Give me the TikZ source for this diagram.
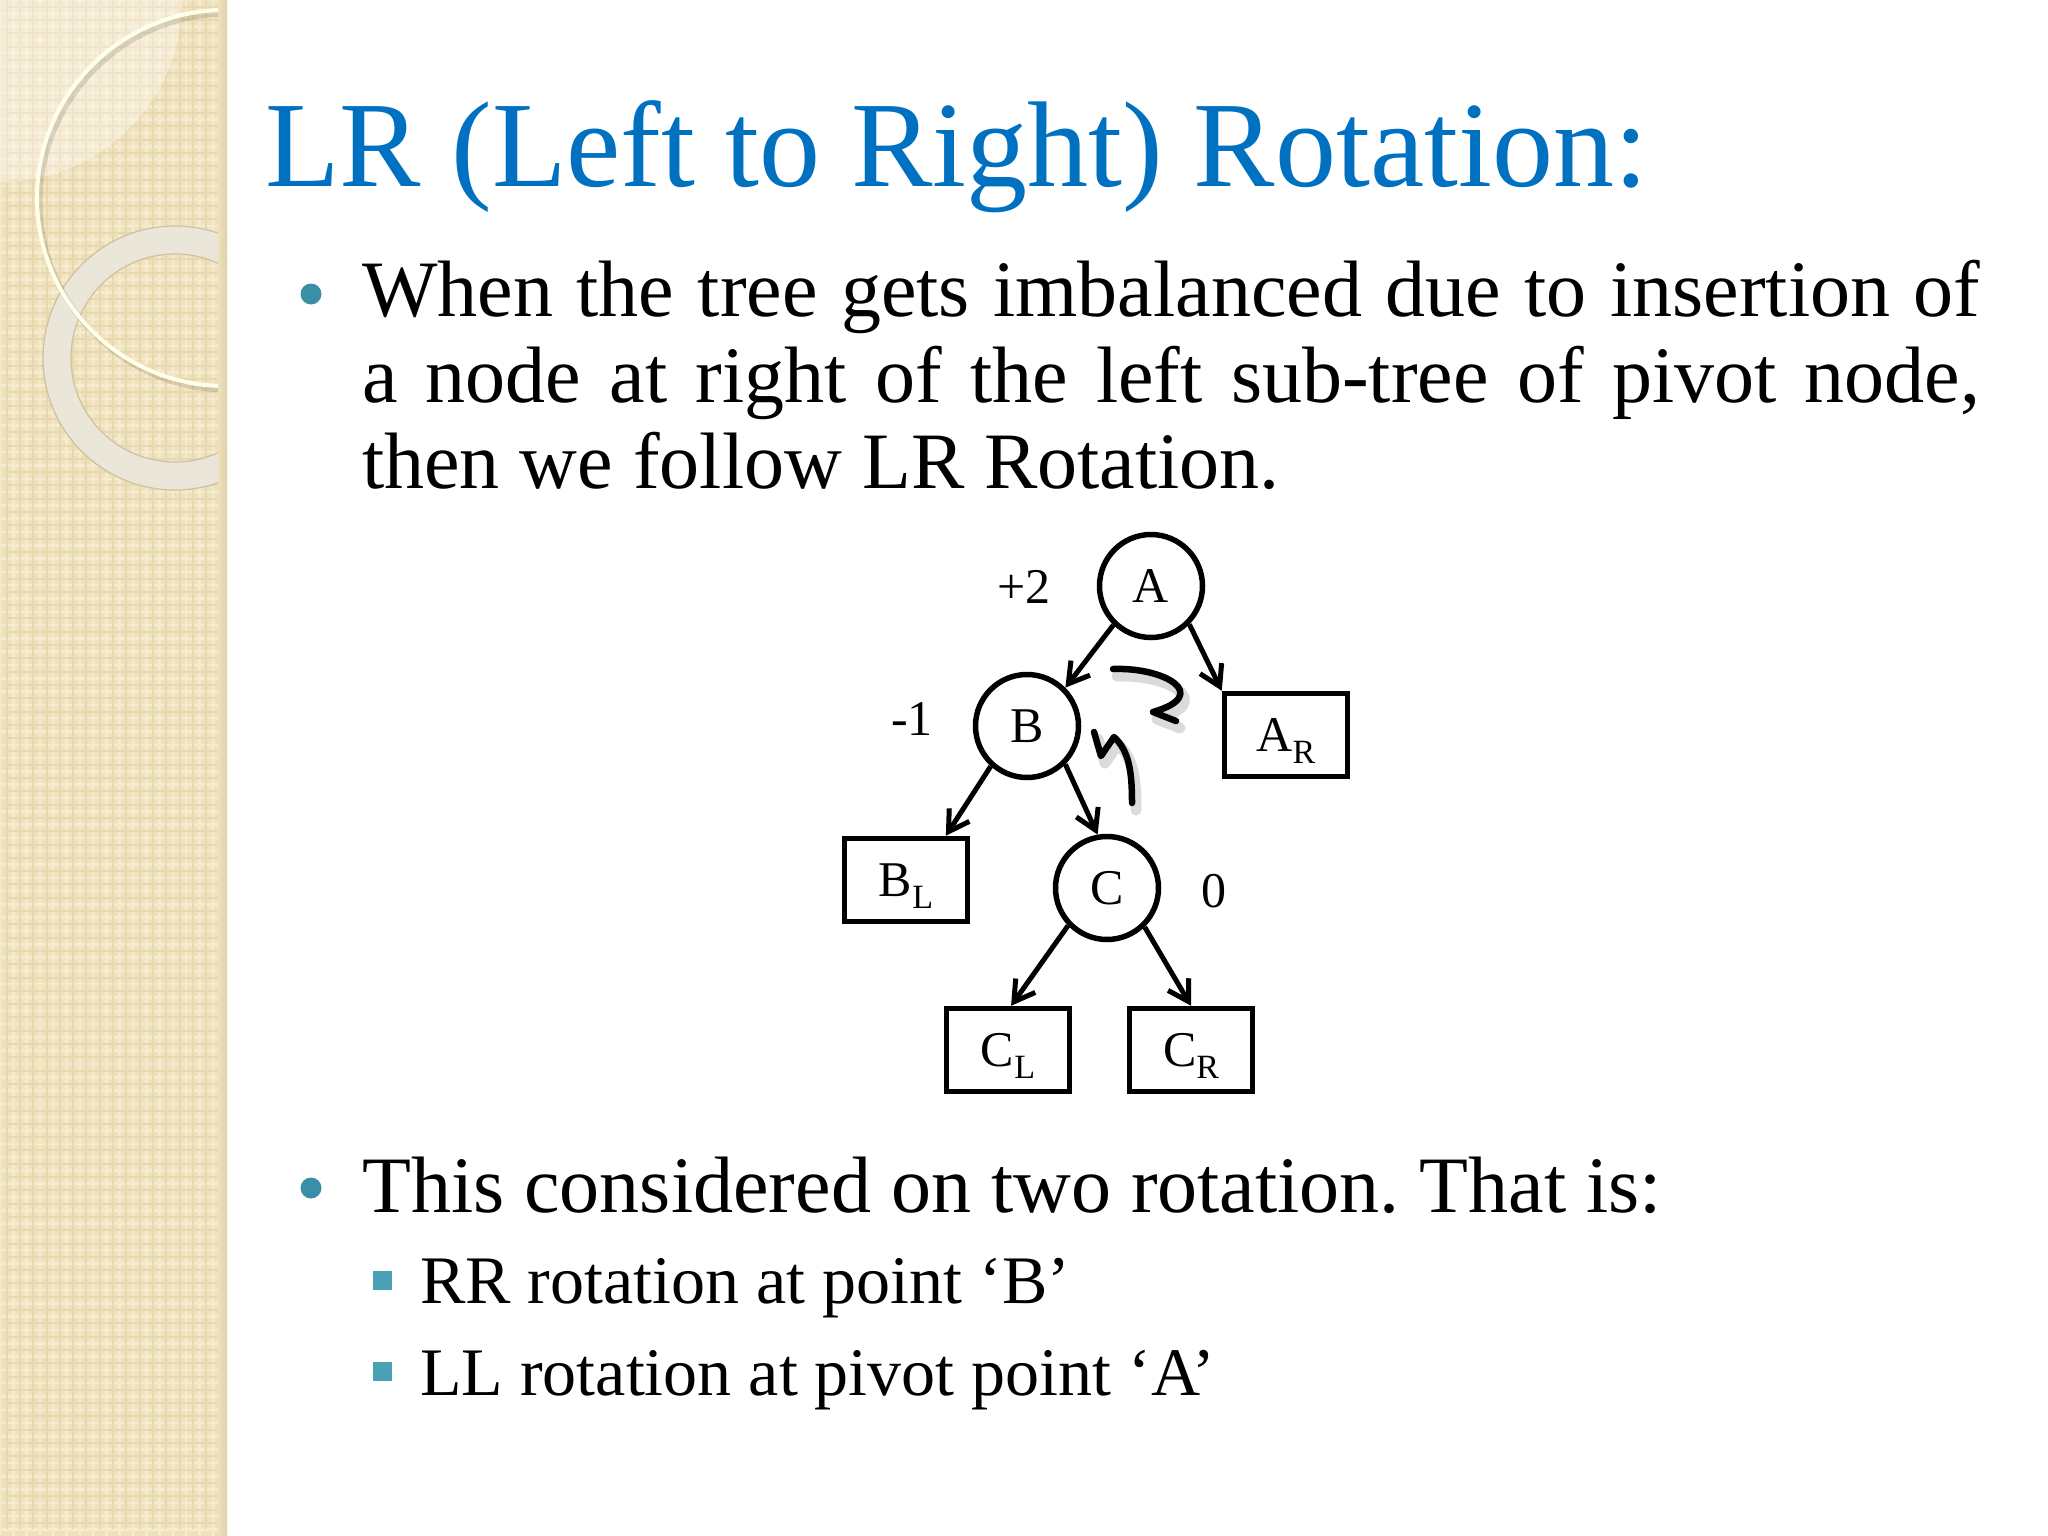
\documentclass[tikz,border=0pt]{standalone}
\usepackage{fontspec}
\setmainfont{Liberation Serif}
\usetikzlibrary{arrows.meta}
\definecolor{titleblue}{RGB}{0,112,192}
\definecolor{tealdot}{RGB}{58,143,166}
\definecolor{tealsq}{RGB}{74,160,180}
\definecolor{panelbg}{RGB}{239,225,187}
\definecolor{panelgrid}{RGB}{245,235,207}
\definecolor{paneldot}{RGB}{232,216,175}
\definecolor{paneledge}{RGB}{222,208,170}
\definecolor{ringgray}{RGB}{234,231,220}
\definecolor{ringedge}{RGB}{206,193,158}
\newcommand{\lowsub}[1]{\raisebox{-12pt}[0pt][0pt]{\fontsize{34}{34}\selectfont #1}}
\frenchspacing
\begin{document}
\begin{tikzpicture}[x=1pt,y=-1pt,
  bodytext/.style={anchor=base west, inner sep=0pt, font=\fontsize{80}{86}\selectfont},
  subtext/.style={anchor=base west, inner sep=0pt, font=\fontsize{68}{74}\selectfont},
  bulletdot/.style={circle, fill=tealdot, minimum size=21pt, inner sep=0pt},
  bulletsq/.style={rectangle, fill=tealsq, minimum size=19pt, inner sep=0pt},
  treecirc/.style={circle, draw, line width=5.5pt, minimum size=103pt, inner sep=0pt, font=\fontsize{50}{60}\selectfont},
  treebox/.style={rectangle, draw, line width=5.5pt, minimum width=123pt, minimum height=83pt, inner sep=0pt, font=\fontsize{50}{60}\selectfont},
  balance/.style={anchor=base, inner sep=0pt, font=\fontsize{50}{60}\selectfont},
  arr/.style={-{Straight Barb[length=20pt,width=24pt]}, line width=5pt},
  hand/.style={line width=6.5pt, line cap=round, line join=round},
  handshadow/.style={line width=11pt, line cap=round, line join=round, black, opacity=0.14}
]
\useasboundingbox (0,0) rectangle (2048,1536);
\fill[white] (0,0) rectangle (2048,1536);

% left decorative panel
\begin{scope}
  \clip (0,0) rectangle (227,1536);
  \fill[panelbg] (0,0) rectangle (227,1536);
  \draw[panelgrid, line width=2.5pt, step=13.3pt] (0,1536) grid (227,0);
  \draw[paneldot, line width=2pt, step=13.3pt, shift={(6.65pt,6.65pt)}] (0,1536) grid (227,0);
  \fill[white, opacity=0.35] (0,0) circle (182pt);
  \draw[ringgray, line width=28pt, opacity=0.92] (175,358) circle (118pt);
  \draw[ringedge, line width=1.2pt] (175,358) circle (132pt);
  \draw[ringedge, line width=1.2pt] (175,358) circle (104pt);
  \draw[black, opacity=0.12, line width=5pt] (228,202) circle (188pt);
  \draw[white!92!yellow, line width=4pt] (225,198) circle (188pt);
  \shade[left color=panelbg, right color=paneledge] (218,0) rectangle (227,1536);
\end{scope}

% title
\node[anchor=base west, inner sep=0pt, text=titleblue, font=\fontsize{122}{130}\selectfont] (title) at (265,186) {LR (Left to Right) Rotation:};

% first bullet
\node[bulletdot] (b1) at (311,294) {};
\node[bodytext] (l1) at (362,316) {\makebox[1618pt][s]{When the tree gets imbalanced due to insertion of}};
\node[bodytext] (l2) at (362,402) {\makebox[1618pt][s]{a node at right of the left sub-tree of pivot node,}};
\node[bodytext] (l3) at (362,488) {then we follow LR Rotation.};

% tree
\node[treecirc] (A) at (1151,586) {A};
\node[treecirc] (B) at (1027,726) {B};
\node[treecirc] (C) at (1107,888) {C};
\node[treebox] (AR) at (1286,735) {A\lowsub{R}};
\node[treebox] (BL) at (906,880) {B\lowsub{L}};
\node[treebox] (CL) at (1008,1050) {C\lowsub{L}};
\node[treebox] (CR) at (1191,1050) {C\lowsub{R}};
\node[balance] (bA) at (1024,603) {+2};
\node[balance] (bB) at (912,735) {-1};
\node[balance] (bC) at (1214,907) {0};

\draw[arr] (A.-134) -- (B.45);
\draw[arr] (A.-45) -- (AR.north west);
\draw[arr] (B.-132) -- (BL.48);
\draw[arr] (B.-45) -- (C.100);
\draw[arr] (C.-136) -- (CL.86);
\draw[arr] (C.-46) -- (CR.north);

% hand-drawn rotation marks
\coordinate (h1s) at (1113,669);
\coordinate (h1e) at (1153,712);
\coordinate (h1t) at (1176,721);
\draw[handshadow] ([shift={(4,7)}]h1s) .. controls (1169,674) and (1216,702) .. ([shift={(4,7)}]h1e) -- ([shift={(4,7)}]h1t);
\draw[hand] (h1s) .. controls (1165,667) and (1212,695) .. (h1e) -- (h1t);
\coordinate (h2s) at (1094,732);
\coordinate (h2a) at (1101,756);
\coordinate (h2b) at (1114,737);
\coordinate (h2e) at (1132,803);
\draw[handshadow] ([shift={(4,7)}]h2s) -- ([shift={(4,7)}]h2a) -- ([shift={(4,7)}]h2b) .. controls (1133,758) and (1136,778) .. ([shift={(4,7)}]h2e);
\draw[hand] (h2s) -- (h2a) -- (h2b) .. controls (1129,751) and (1132,771) .. (h2e);

% second bullet
\node[bulletdot] (b2) at (311,1188) {};
\node[bodytext] (l4) at (362,1212) {This considered on two rotation. That is:};
\node[bulletsq] (s1) at (382,1280) {};
\node[subtext] (l5) at (420,1303) {RR rotation at point ‘B’};
\node[bulletsq] (s2) at (382,1371) {};
\node[subtext] (l6) at (420,1395) {LL rotation at pivot point ‘A’};
\end{tikzpicture}
\end{document}
